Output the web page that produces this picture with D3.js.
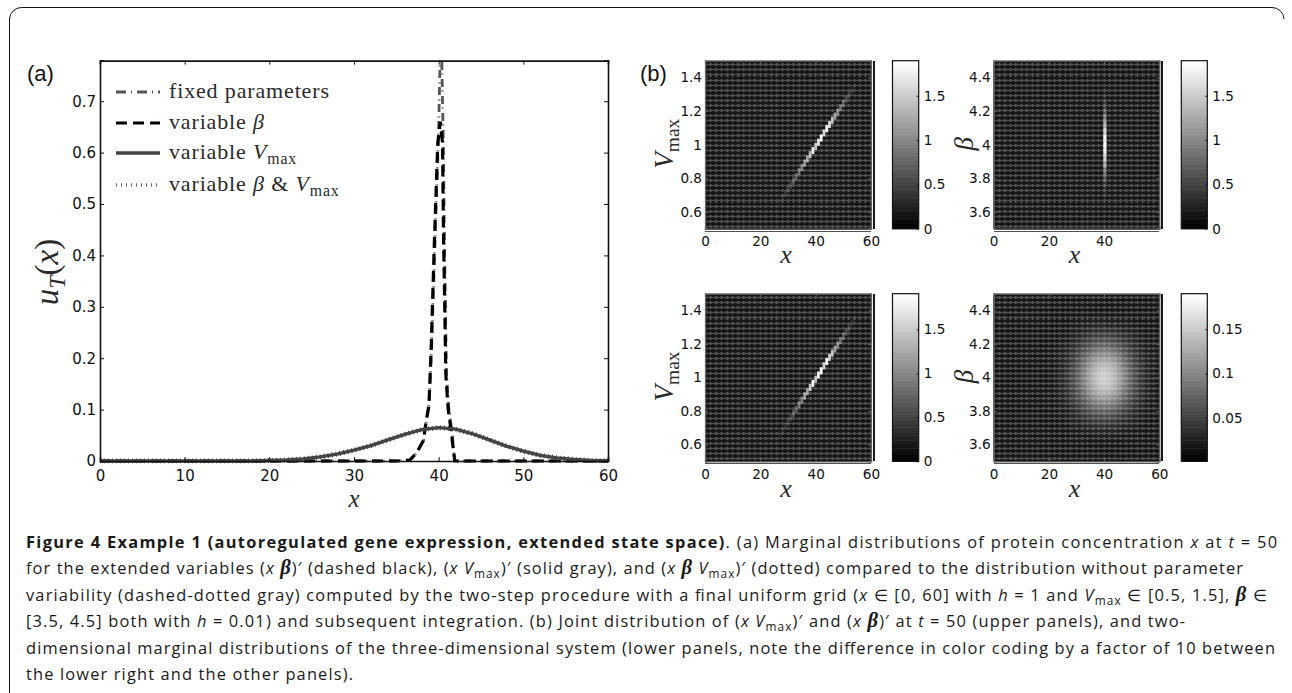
<!DOCTYPE html>
<html><head><meta charset="utf-8">
<script src="https://cdn.jsdelivr.net/npm/d3@7"></script>
<style>
html,body{margin:0;padding:0;background:#fff}
svg{display:block}
.tick text{font-family:"DejaVu Sans";fill:#111}
.cm{font-family:"Liberation Serif";fill:#2a2a2a}
</style></head><body>
<svg id="c" width="1292" height="693"></svg>
<script>
// ---------- data: panel (a)
const fixedX  = [0,10,20,30,35,36.6,37.4,38.2,38.5,38.86,39.17,39.57,39.96,40.27,40.55,40.68,40.8,40.92,41.18,41.58,41.9,50,60];
const fixedY  = [0,0,0,0,0,0.002,0.016,0.04,0.074,0.11,0.222,0.43,0.62,0.86,0.62,0.43,0.30,0.17,0.105,0.054,0,0,0];
const betaX   = [0,10,20,30,35,36.6,37.4,38.2,38.5,38.86,39.12,39.5,39.9,40.2,40.45,40.58,40.72,40.84,41.1,41.5,41.9,50,60];
const betaY   = [0,0,0,0,0,0.002,0.016,0.04,0.074,0.11,0.222,0.43,0.62,0.66,0.62,0.43,0.30,0.17,0.105,0.054,0,0,0];
const wideX   = [0,10,18,20,22,24,26,28,30,32,34,36,38,40,42,44,46,48,50,52,54,56,58,60];
const vmaxY   = [0,0,0,0.001,0.002,0.004,0.008,0.0135,0.021,0.03,0.041,0.052,0.061,0.065,0.062,0.053,0.041,0.029,0.019,0.011,0.006,0.003,0.001,0];
const bothY   = [0,0,0,0.001,0.002,0.004,0.008,0.0135,0.021,0.03,0.041,0.052,0.061,0.065,0.062,0.053,0.041,0.029,0.019,0.011,0.006,0.003,0.001,0];
const xTicksA = [0,10,20,30,40,50,60];
const yTicksA = [0,0.1,0.2,0.3,0.4,0.5,0.6,0.7];
// ---------- data: panel (b) ridges
const ridgeX  = [27,28,29,30,31,32,33,34,35,36,37,38,39,40,41,42,43,44,45,46,47,48,49,50,51,52,53,54];
const ridgeV  = [0.66,0.685,0.71,0.735,0.76,0.785,0.81,0.84,0.865,0.89,0.915,0.94,0.965,0.99,1.015,1.04,1.07,1.095,1.12,1.145,1.17,1.195,1.22,1.245,1.27,1.295,1.32,1.345];
const ridgeTop= [0.08,0.14,0.2,0.28,0.36,0.46,0.58,0.7,0.85,0.95,1.15,1.3,1.75,1.4,1.7,1.85,1.55,1.85,1.6,1.3,1.1,0.9,0.7,0.56,0.42,0.3,0.2,0.1];
const ridgeLow= [0.08,0.14,0.2,0.26,0.34,0.48,0.56,0.74,0.8,1.05,1.1,1.4,1.85,1.35,1.8,1.9,1.5,1.88,1.5,1.35,1.05,0.92,0.68,0.54,0.4,0.28,0.18,0.1];
const stemB   = [3.68,3.72,3.76,3.8,3.84,3.88,3.92,3.96,4,4.04,4.08,4.12,4.16,4.2,4.24,4.28,4.32];
const stemP   = [0.08,0.16,0.3,0.5,0.75,1.1,1.45,1.75,1.88,1.8,1.55,1.2,0.85,0.55,0.32,0.16,0.08];
// ---------- data: lower right marginal
const blobX = [22,25,28,31,34,37,40,43,46,49,52,55,58];
const blobB = [3.7,3.75,3.8,3.85,3.9,3.95,4,4.05,4.1,4.15,4.2,4.25,4.3];
const blobRow1 = [0,.001,.003,.007,.012,.017,.019,.017,.012,.007,.003,.001,0];
const blobRow2 = [.001,.003,.007,.014,.024,.033,.037,.033,.024,.014,.007,.003,.001];
const blobRow3 = [.001,.005,.012,.025,.043,.060,.067,.060,.043,.025,.012,.005,.001];
const blobRow4 = [.002,.007,.019,.039,.067,.093,.104,.093,.067,.039,.019,.007,.002];
const blobRow5 = [.003,.010,.026,.055,.094,.130,.144,.130,.094,.055,.026,.010,.003];
const blobRow6 = [.004,.012,.031,.066,.113,.157,.174,.157,.113,.066,.031,.012,.004];
const blobRow7 = [.004,.013,.033,.070,.120,.167,.185,.167,.120,.070,.033,.013,.004];
const blobRows = [blobRow1,blobRow2,blobRow3,blobRow4,blobRow5,blobRow6,blobRow7,blobRow6,blobRow5,blobRow4,blobRow3,blobRow2,blobRow1];
// ---------- data: tick labels
const xTicksB = [0,20,40,60];
const xTicksB2 = [0,20,40];
const vTicks = [0.6,0.8,1,1.2,1.4];
const bTicks = [3.6,3.8,4,4.2,4.4];
const cbTicks = [0,0.5,1,1.5];
const cbTicksSmall = [0.05,0.1,0.15];
// ---------- text
const legendLabels = [
  [["fixed parameters"]],
  [["variable "],["β","i"]],
  [["variable "],["V","i"],["max","s"]],
  [["variable "],["β","i"],[" & "],["V","i"],["max","s"]]
];
const captionLines = [
 [["Figure 4 Example 1 (autoregulated gene expression, extended state space)","b"],[". (a) Marginal distributions of protein concentration "],["x","i"],[" at "],["t","i"],[" = 50"]],
 [["for the extended variables ("],["x ","i"],["β","B"],[")′ (dashed black), ("],["x V","i"],["max","s"],[")′ (solid gray), and ("],["x ","i"],["β","B"],[" V","i"],["max","s"],[")′ (dotted) compared to the distribution without parameter"]],
 [["variability (dashed-dotted gray) computed by the two-step procedure with a final uniform grid ("],["x","i"],[" ∈  [0, 60] with "],["h","i"],[" = 1 and "],["V","i"],["max","s"],[" ∈  [0.5, 1.5], "],["β","B"],[" ∈"]],
 [["[3.5, 4.5] both with "],["h","i"],[" = 0.01) and subsequent integration. (b) Joint distribution of ("],["x V","i"],["max","s"],[")′ and ("],["x ","i"],["β","B"],[")′ at "],["t","i"],[" = 50 (upper panels), and two-"]],
 [["dimensional marginal distributions of the three-dimensional system (lower panels, note the difference in color coding by a factor of 10 between"]],
 [["the lower right and the other panels)."]]
];
const captionEnds = [1277,1243,1267,1185,1275,353];

const svg = d3.select("#c");
const defs = svg.append("defs");
defs.append("filter").attr("id","soft").attr("x","-30%").attr("y","-30%").attr("width","160%").attr("height","160%").append("feGaussianBlur").attr("stdDeviation",0.5);
defs.append("filter").attr("id","softB").attr("x","-20%").attr("y","-20%").attr("width","140%").attr("height","140%").append("feGaussianBlur").attr("stdDeviation",7);

function rich(sel, segs, size, opts={}){
  let pendingDy = 0;
  segs.forEach(seg=>{
    const [t,k] = seg;
    const ts = sel.append("tspan").text(t);
    let dy = pendingDy; pendingDy = 0;
    if(k==="i") ts.attr("font-style","italic");
    if(k==="b") ts.attr("font-weight","bold");
    if(k==="B") ts.attr("font-weight","bold").attr("font-style","italic").attr("font-family","Liberation Serif").attr("font-size",size*1.25);
    if(k==="s"){ ts.attr("font-size",size*(opts.sub||0.72)); dy += size*0.22; pendingDy = -size*0.22; }
    if(k==="si"){ ts.attr("font-size",size*(opts.sub||0.72)).attr("font-style","italic"); dy += size*0.22; pendingDy = -size*0.22; }
    if(dy) ts.attr("dy",dy);
  });
}

// outer frame
svg.append("path").attr("d","M9.5,693V19A12,12 0 0 1 21.5,7.5H1272A12,12 0 0 1 1284,19").attr("fill","none").attr("stroke","#111").attr("stroke-width",1);

// ---------- panel (a)
const xA = d3.scaleLinear([0,60],[100,608]);
const yA = d3.scaleLinear([0,0.779],[461,60.6]);
const gA = svg.append("g");
defs.append("clipPath").attr("id","clipA").append("rect").attr("x",100).attr("y",60.6).attr("width",508).attr("height",403);
const line = d3.line().x(d=>xA(d[0])).y(d=>yA(d[1]));
const lineStyles = [
  {x:fixedX,y:fixedY,col:"#555", w:2.8, dash:"8,3.5,1,4.5", legendDash:"10,5,1,5"},
  {x:betaX, y:betaY, col:"#000", w:3.2, dash:"11,6", legendDash:"11,6"},
  {x:wideX, y:vmaxY, col:"#444", w:3.4, dash:null, legendDash:null},
  {x:wideX, y:bothY, col:"#444", w:5, dash:"1,3", legendDash:"1,4"}
];
const plotA = gA.append("g").attr("clip-path","url(#clipA)");
lineStyles.forEach(s=>{
  plotA.append("path").attr("d",line(d3.zip(s.x,s.y))).attr("fill","none")
   .attr("stroke",s.col).attr("stroke-width",s.w).attr("stroke-dasharray",s.dash);
});
function axesBox(g,x,y,xt,yt,fs,ts,col,padX,padY){
  const [x0,x1]=x.range(), [y0,y1]=y.range();
  const ax = g.append("g").attr("transform",`translate(0,${y0})`).call(d3.axisBottom(x).tickValues(xt).tickSize(-ts).tickPadding(padX).tickFormat(d3.format("~g")));
  const ay = g.append("g").attr("transform",`translate(${x0},0)`).call(d3.axisLeft(y).tickValues(yt).tickSize(-ts).tickPadding(padY).tickFormat(d3.format("~g")));
  const at = g.append("g").attr("transform",`translate(0,${y1})`).call(d3.axisTop(x).tickValues(xt).tickSize(-ts).tickFormat(""));
  const ar = g.append("g").attr("transform",`translate(${x1},0)`).call(d3.axisRight(y).tickValues(yt).tickSize(-ts).tickFormat(""));
  [ax,ay,at,ar].forEach(a=>{
    a.attr("font-family","DejaVu Sans").attr("font-size",fs);
    a.selectAll("path.domain").attr("stroke",col).attr("stroke-width",1.2);
    a.selectAll("line").attr("stroke",col);
  });
  return [ax,ay,at,ar];
}
const axA = axesBox(gA,xA,yA,xTicksA,yTicksA,15,4,"#111",9,4);
axA.forEach(a=>a.selectAll("path.domain").attr("stroke-width",1.6));

// legend
const legY=[92,123,153,185];
legendLabels.forEach((seg,i)=>{
  const s=lineStyles[i];
  gA.append("line").attr("x1",116).attr("x2",160).attr("y1",legY[i]).attr("y2",legY[i])
    .attr("stroke",i===3?"#666":s.col).attr("stroke-width",i===3?3.5:s.w).attr("stroke-dasharray",s.legendDash);
  const t=gA.append("text").attr("class","cm").attr("x",169).attr("y",legY[i]+6).attr("font-size",22).attr("letter-spacing",0.85);
  rich(t,seg,22);
});
gA.append("text").attr("x",27).attr("y",81).attr("font-family","Liberation Sans").attr("font-size",22).attr("fill","#111").text("(a)");
gA.append("text").attr("x",640).attr("y",81).attr("font-family","Liberation Sans").attr("font-size",22).attr("fill","#111").text("(b)");
const yl=gA.append("text").attr("class","cm").attr("transform","translate(58,272) rotate(-90)").attr("text-anchor","middle").attr("font-size",33);
rich(yl,[["u","i"],["T","si"],["("],["x","i"],[")"]],33);
gA.append("text").attr("class","cm").attr("x",354).attr("y",507).attr("text-anchor","middle").attr("font-size",25).attr("font-style","italic").text("x");

// ---------- panel (b)
function meshLines(g,x,y){
  const [x0,x1]=x.range(), [y0,y1]=y.range();
  g.append("rect").attr("x",x0).attr("y",y1).attr("width",x1-x0).attr("height",y0-y1).attr("fill","#333");
  const xs=d3.range(0,60.01,2), ys=d3.range(y.domain()[0],y.domain()[1]+1e-6,0.03);
  const m=g.append("g").attr("shape-rendering","crispEdges");
  m.selectAll("line.v").data(xs).join("line").attr("x1",d=>x(d)).attr("x2",d=>x(d)).attr("y1",y1).attr("y2",y0).attr("stroke","#5a5a5a").attr("stroke-width",1);
  m.selectAll("line.d").data(xs).join("line").attr("x1",d=>x(d+1)).attr("x2",d=>x(d+1)).attr("y1",y1).attr("y2",y0).attr("stroke","#191919").attr("stroke-width",2);
  m.selectAll("line.h").data(ys).join("line").attr("y1",d=>y(d)).attr("y2",d=>y(d)).attr("x1",x0).attr("x2",x1).attr("stroke","#161616").attr("stroke-width",2);
  m.selectAll("line.h2").data(ys).join("line").attr("y1",d=>y(d)+2.5).attr("y2",d=>y(d)+2.5).attr("x1",x0).attr("x2",x1).attr("stroke","#505050").attr("stroke-width",1);
}
function heat(cfg){
  const {x0,x1,y0,y1,cx0,cx1,yDom,yTicks,xTicks,max,cTicks,yLab,yLabX,xLabDy}=cfg;
  const x=d3.scaleLinear([0,60],[x0,x1]);
  const y=d3.scaleLinear(yDom,[y1,y0]);
  const g=svg.append("g");
  meshLines(g,x,y);
  const op=d3.scaleLinear([0,max],[0,1]);
  cfg.draw(g,x,y,op);
  axesBox(g,x,y,xTicks,yTicks,13.6,3,"#666",8,3);
  g.append("text").attr("class","cm").attr("x",(x0+x1)/2-2).attr("y",y1+xLabDy).attr("text-anchor","middle").attr("font-size",26).attr("font-style","italic").text("x");
  const yl=g.append("text").attr("class","cm").attr("transform",`translate(${yLabX},${(y0+y1)/2-1}) rotate(-90)`).attr("text-anchor","middle").attr("font-size",27);
  rich(yl,yLab,27);
  const cMin=cfg.cMin||0;
  const c=d3.scaleLinear([cMin,max],[y1,y0]);
  const levels=d3.range(0,64);
  const lv=d3.scaleLinear([0,64],[cMin,max]);
  const shade=d3.scaleLinear([0,63],[0,255]);
  g.append("g").selectAll("rect").data(levels).join("rect")
    .attr("x",cx0).attr("width",cx1-cx0)
    .attr("y",d=>c(lv(d+1))).attr("height",d=>c(lv(d))-c(lv(d+1))+0.5)
    .attr("fill",d=>d3.rgb(shade(d),shade(d),shade(d)));
  g.append("rect").attr("x",cx0).attr("y",y0).attr("width",cx1-cx0).attr("height",y1-y0).attr("fill","none").attr("stroke","#111").attr("stroke-width",1.2);
  const ar=g.append("g").attr("transform",`translate(${cx1},0)`).call(d3.axisRight(c).tickValues(cTicks).tickSize(-2).tickPadding(5).tickFormat(d3.format("~g")));
  ar.attr("font-family","DejaVu Sans").attr("font-size",13.6);
  ar.selectAll("path.domain").remove();
  ar.selectAll("line").attr("stroke","#111");
}
function ridgeDraw(vals){
  return (g,x,y,op)=>{
    const cells=d3.zip(ridgeX,ridgeV,vals);
    g.append("g").attr("filter","url(#soft)").selectAll("rect").data(cells).join("rect")
      .attr("x",d=>x(d[0]-0.5)).attr("width",x(1)-x(0))
      .attr("y",d=>y(d[1]+0.021)).attr("height",d=>y(d[1]-0.021)-y(d[1]+0.021))
      .attr("fill","#fff").attr("opacity",d=>op(d[2]));
  };
}
const yLabV=[["V","i"],["max","s"]];
const yLabB=[["β","i"]];
heat({x0:705,x1:871,y0:60.7,y1:228.7,cx0:892.5,cx1:918.7,yDom:[0.5,1.5],yTicks:vTicks,xTicks:xTicksB,max:1.896,cTicks:cbTicks,yLab:yLabV,yLabX:673,xLabDy:34,draw:ridgeDraw(ridgeTop)});
heat({x0:705,x1:871,y0:293.7,y1:461.3,cx0:892.5,cx1:918.7,yDom:[0.5,1.5],yTicks:vTicks,xTicks:xTicksB,max:1.905,cTicks:cbTicks,yLab:yLabV,yLabX:673,xLabDy:35.5,draw:ridgeDraw(ridgeLow)});
heat({x0:993.7,x1:1159.3,y0:60.7,y1:228.7,cx0:1181.3,cx1:1207.3,yDom:[3.5,4.5],yTicks:bTicks,xTicks:xTicksB2,max:1.896,cTicks:cbTicks,yLab:yLabB,yLabX:973,xLabDy:34,draw:(g,x,y,op)=>{
  g.append("g").attr("filter","url(#soft)").selectAll("rect").data(d3.zip(stemB,stemP)).join("rect")
   .attr("x",x(39.7)).attr("width",x(1.2)-x(0))
   .attr("y",d=>y(d[0]+0.02)).attr("height",d=>y(d[0]-0.02)-y(d[0]+0.02))
   .attr("fill","#fff").attr("opacity",d=>op(d[1]));
}});
heat({x0:993.7,x1:1159.3,y0:293.7,y1:461.3,cx0:1181.3,cx1:1207.3,yDom:[3.5,4.5],yTicks:bTicks,xTicks:xTicksB,max:0.19,cMin:0.001,cTicks:cbTicksSmall,yLab:yLabB,yLabX:973,xLabDy:35.5,draw:(g,x,y,op)=>{
  const cells=[];
  blobRows.forEach((r,j)=>r.forEach((v,i)=>cells.push([blobX[i],blobB[j],v])));
  g.append("g").attr("filter","url(#softB)").selectAll("rect").data(cells).join("rect")
   .attr("x",d=>x(d[0]-1.5)).attr("width",x(3)-x(0)+0.5)
   .attr("y",d=>y(d[1]+0.025)).attr("height",d=>y(d[1]-0.025)-y(d[1]+0.025)+0.5)
   .attr("fill","#e6e6e6").attr("opacity",d=>op(d[2]));
}});

// ---------- caption
const capYs=[548,574,601,627,654,680];
captionLines.forEach((segs,i)=>{
  const t=svg.append("text").attr("x",26).attr("y",capYs[i]).attr("font-family","Open Sans").attr("font-size",16.4).attr("fill","#1a1a1a");
  rich(t,segs,16.4,{sub:0.72});
  t.attr("textLength",captionEnds[i]-26).attr("lengthAdjust","spacing");
});
</script></body></html>
